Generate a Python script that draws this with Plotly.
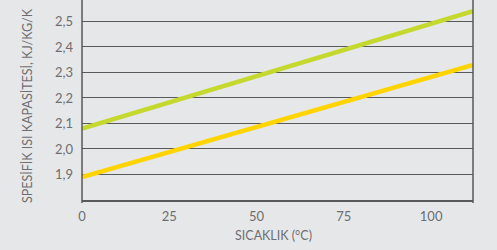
import plotly.graph_objects as go

temps = [0, 25, 50, 75, 100, 112]
green_vals = [2.08, 2.183, 2.286, 2.389, 2.49, 2.54]
yellow_vals = [1.89, 1.988, 2.086, 2.185, 2.283, 2.33]
x_ticks = [0, 25, 50, 75, 100]
y_ticks = [1.9, 2.0, 2.1, 2.2, 2.3, 2.4, 2.5]
x_title = "SICAKLIK (°C)"
y_title = "SPESİFİK ISI KAPASİTESİ, KJ/KG/K"

bg = "#E6E7E9"
axis_col = "#58595B"
text_col = "#6D6E71"

fig = go.Figure()
fig.add_trace(go.Scatter(x=temps, y=green_vals, mode="lines",
                         line=dict(color="#C4D82E", width=4.5), showlegend=False))
fig.add_trace(go.Scatter(x=temps, y=yellow_vals, mode="lines",
                         line=dict(color="#FFD400", width=4.5), showlegend=False))

for xp in [0, 1]:
    fig.add_shape(type="line", xref="paper", yref="paper", x0=xp, x1=xp, y0=-0.015, y1=1,
                  line=dict(color=axis_col, width=1.5))

# axis titles as positioned annotations
fig.add_annotation(text=x_title, xref="paper", yref="paper", x=(273 - 82) / 391, y=-35 / 200,
                   xanchor="center", yanchor="middle", showarrow=False,
                   font=dict(size=12.5, color=text_col))
fig.add_annotation(text=y_title, xref="paper", yref="paper", x=(27 - 82) / 391, y=(200 - 106) / 200,
                   xanchor="center", yanchor="middle", showarrow=False, textangle=-90,
                   font=dict(size=12.5, color=text_col))

fig.update_layout(
    width=497, height=250,
    margin=dict(l=82, r=24, t=0, b=50, autoexpand=False),
    paper_bgcolor=bg, plot_bgcolor=bg,
    separators=",.",
    font=dict(family="Lato, 'Open Sans', sans-serif", color=text_col, size=13),
    xaxis=dict(range=[0, 112], tickvals=x_ticks, showgrid=False, zeroline=False,
               showline=True, linecolor=axis_col, linewidth=1.5, ticks="", automargin=False,
               ticklabelstandoff=4, tickfont=dict(size=13, color=text_col)),
    yaxis=dict(range=[1.8, 2.584], tickvals=y_ticks, tickformat=".1f", automargin=False,
               showgrid=True, gridcolor=axis_col, gridwidth=1.2, zeroline=False,
               showline=False, ticks="", ticklabelstandoff=8,
               tickfont=dict(size=13, color=text_col)),
)

fig.write_html("out.html", config={"displayModeBar": False},
               post_script="document.body.style.margin='0';document.body.style.overflow='hidden';")
